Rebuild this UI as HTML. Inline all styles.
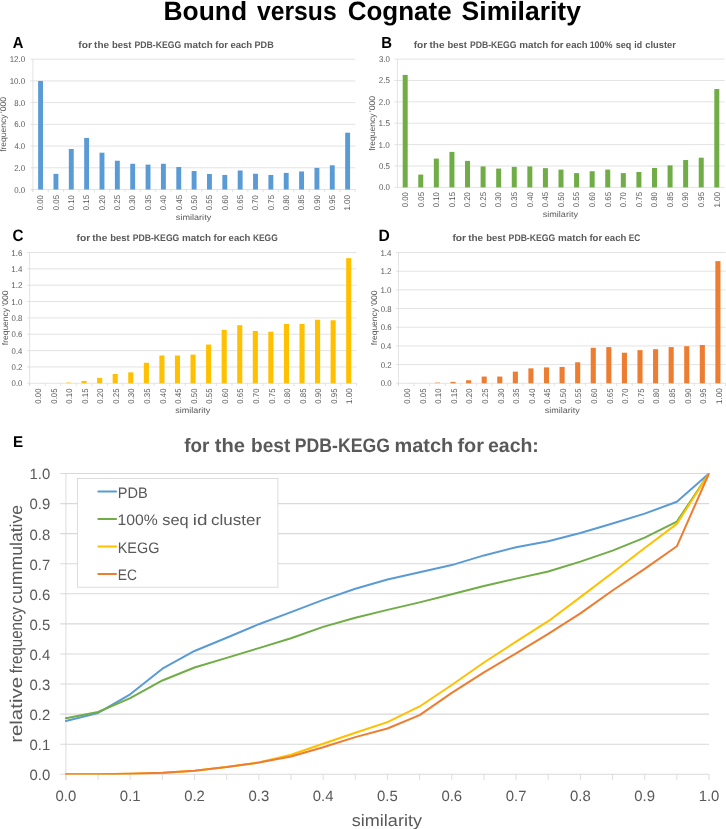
<!DOCTYPE html>
<html><head><meta charset="utf-8"><title>Bound versus Cognate Similarity</title>
<style>html,body{margin:0;padding:0;background:#fff;}body{width:726px;height:829px;overflow:hidden;}svg{display:block;}text{font-family:"Liberation Sans", sans-serif;text-rendering:geometricPrecision;}</style>
</head><body>
<svg width="726" height="829" viewBox="0 0 726 829" style="will-change:transform">
<rect x="0" y="0" width="726" height="829" fill="#ffffff"/>
<text x="163.53" y="20.30" font-size="26.4" fill="#000" font-weight="bold" textLength="83.61" lengthAdjust="spacingAndGlyphs">Bound</text>
<text x="257.00" y="20.30" font-size="26.4" fill="#000" font-weight="bold" textLength="79.71" lengthAdjust="spacingAndGlyphs">versus</text>
<text x="347.73" y="20.30" font-size="26.4" fill="#000" font-weight="bold" textLength="103.95" lengthAdjust="spacingAndGlyphs">Cognate</text>
<text x="461.64" y="20.30" font-size="26.4" fill="#000" font-weight="bold" textLength="119.31" lengthAdjust="spacingAndGlyphs">Similarity</text>
<line x1="30.40" y1="189.50" x2="355.30" y2="189.50" stroke="#d9d9d9" stroke-width="0.75"/>
<text x="14.29" y="192.50" font-size="8.3" fill="#595959" textLength="10.91" lengthAdjust="spacingAndGlyphs">0.0</text>
<line x1="30.40" y1="167.78" x2="355.30" y2="167.78" stroke="#d9d9d9" stroke-width="0.75"/>
<text x="14.20" y="170.78" font-size="8.3" fill="#595959" textLength="11.01" lengthAdjust="spacingAndGlyphs">2.0</text>
<line x1="30.40" y1="146.07" x2="355.30" y2="146.07" stroke="#d9d9d9" stroke-width="0.75"/>
<text x="14.42" y="149.07" font-size="8.3" fill="#595959" textLength="10.78" lengthAdjust="spacingAndGlyphs">4.0</text>
<line x1="30.40" y1="124.35" x2="355.30" y2="124.35" stroke="#d9d9d9" stroke-width="0.75"/>
<text x="14.20" y="127.35" font-size="8.3" fill="#595959" textLength="11.01" lengthAdjust="spacingAndGlyphs">6.0</text>
<line x1="30.40" y1="102.63" x2="355.30" y2="102.63" stroke="#d9d9d9" stroke-width="0.75"/>
<text x="14.26" y="105.63" font-size="8.3" fill="#595959" textLength="10.95" lengthAdjust="spacingAndGlyphs">8.0</text>
<line x1="30.40" y1="80.92" x2="355.30" y2="80.92" stroke="#d9d9d9" stroke-width="0.75"/>
<text x="9.69" y="83.92" font-size="8.3" fill="#595959" textLength="15.52" lengthAdjust="spacingAndGlyphs">10.0</text>
<line x1="30.40" y1="59.20" x2="355.30" y2="59.20" stroke="#d9d9d9" stroke-width="0.75"/>
<text x="9.69" y="62.20" font-size="8.3" fill="#595959" textLength="15.52" lengthAdjust="spacingAndGlyphs">12.0</text>
<line x1="32.90" y1="59.20" x2="32.90" y2="192.20" stroke="#d9d9d9" stroke-width="0.75"/>
<line x1="32.90" y1="189.50" x2="32.90" y2="192.20" stroke="#d9d9d9" stroke-width="0.75"/>
<line x1="48.25" y1="189.50" x2="48.25" y2="192.20" stroke="#d9d9d9" stroke-width="0.75"/>
<line x1="63.60" y1="189.50" x2="63.60" y2="192.20" stroke="#d9d9d9" stroke-width="0.75"/>
<line x1="78.96" y1="189.50" x2="78.96" y2="192.20" stroke="#d9d9d9" stroke-width="0.75"/>
<line x1="94.31" y1="189.50" x2="94.31" y2="192.20" stroke="#d9d9d9" stroke-width="0.75"/>
<line x1="109.66" y1="189.50" x2="109.66" y2="192.20" stroke="#d9d9d9" stroke-width="0.75"/>
<line x1="125.01" y1="189.50" x2="125.01" y2="192.20" stroke="#d9d9d9" stroke-width="0.75"/>
<line x1="140.37" y1="189.50" x2="140.37" y2="192.20" stroke="#d9d9d9" stroke-width="0.75"/>
<line x1="155.72" y1="189.50" x2="155.72" y2="192.20" stroke="#d9d9d9" stroke-width="0.75"/>
<line x1="171.07" y1="189.50" x2="171.07" y2="192.20" stroke="#d9d9d9" stroke-width="0.75"/>
<line x1="186.42" y1="189.50" x2="186.42" y2="192.20" stroke="#d9d9d9" stroke-width="0.75"/>
<line x1="201.78" y1="189.50" x2="201.78" y2="192.20" stroke="#d9d9d9" stroke-width="0.75"/>
<line x1="217.13" y1="189.50" x2="217.13" y2="192.20" stroke="#d9d9d9" stroke-width="0.75"/>
<line x1="232.48" y1="189.50" x2="232.48" y2="192.20" stroke="#d9d9d9" stroke-width="0.75"/>
<line x1="247.83" y1="189.50" x2="247.83" y2="192.20" stroke="#d9d9d9" stroke-width="0.75"/>
<line x1="263.19" y1="189.50" x2="263.19" y2="192.20" stroke="#d9d9d9" stroke-width="0.75"/>
<line x1="278.54" y1="189.50" x2="278.54" y2="192.20" stroke="#d9d9d9" stroke-width="0.75"/>
<line x1="293.89" y1="189.50" x2="293.89" y2="192.20" stroke="#d9d9d9" stroke-width="0.75"/>
<line x1="309.24" y1="189.50" x2="309.24" y2="192.20" stroke="#d9d9d9" stroke-width="0.75"/>
<line x1="324.60" y1="189.50" x2="324.60" y2="192.20" stroke="#d9d9d9" stroke-width="0.75"/>
<line x1="339.95" y1="189.50" x2="339.95" y2="192.20" stroke="#d9d9d9" stroke-width="0.75"/>
<line x1="355.30" y1="189.50" x2="355.30" y2="192.20" stroke="#d9d9d9" stroke-width="0.75"/>
<rect x="38.13" y="80.92" width="4.90" height="108.58" fill="#5b9bd5"/>
<rect x="53.48" y="173.86" width="4.90" height="15.64" fill="#5b9bd5"/>
<rect x="68.83" y="149.00" width="4.90" height="40.50" fill="#5b9bd5"/>
<rect x="84.18" y="137.92" width="4.90" height="51.58" fill="#5b9bd5"/>
<rect x="99.54" y="152.69" width="4.90" height="36.81" fill="#5b9bd5"/>
<rect x="114.89" y="160.73" width="4.90" height="28.77" fill="#5b9bd5"/>
<rect x="130.24" y="163.77" width="4.90" height="25.73" fill="#5b9bd5"/>
<rect x="145.59" y="164.63" width="4.90" height="24.87" fill="#5b9bd5"/>
<rect x="160.95" y="163.77" width="4.90" height="25.73" fill="#5b9bd5"/>
<rect x="176.30" y="167.02" width="4.90" height="22.48" fill="#5b9bd5"/>
<rect x="191.65" y="171.04" width="4.90" height="18.46" fill="#5b9bd5"/>
<rect x="207.00" y="173.97" width="4.90" height="15.53" fill="#5b9bd5"/>
<rect x="222.35" y="174.95" width="4.90" height="14.55" fill="#5b9bd5"/>
<rect x="237.71" y="170.50" width="4.90" height="19.00" fill="#5b9bd5"/>
<rect x="253.06" y="173.76" width="4.90" height="15.74" fill="#5b9bd5"/>
<rect x="268.41" y="174.95" width="4.90" height="14.55" fill="#5b9bd5"/>
<rect x="283.76" y="172.89" width="4.90" height="16.61" fill="#5b9bd5"/>
<rect x="299.12" y="171.48" width="4.90" height="18.02" fill="#5b9bd5"/>
<rect x="314.47" y="167.89" width="4.90" height="21.61" fill="#5b9bd5"/>
<rect x="329.82" y="165.29" width="4.90" height="24.21" fill="#5b9bd5"/>
<rect x="345.17" y="132.71" width="4.90" height="56.79" fill="#5b9bd5"/>
<text x="43.38" y="210.31" font-size="8.3" fill="#595959" textLength="15.31" lengthAdjust="spacingAndGlyphs" transform="rotate(-90 43.38 210.31)">0.00</text>
<text x="58.73" y="210.31" font-size="8.3" fill="#595959" textLength="15.34" lengthAdjust="spacingAndGlyphs" transform="rotate(-90 58.73 210.31)">0.05</text>
<text x="74.08" y="210.31" font-size="8.3" fill="#595959" textLength="15.31" lengthAdjust="spacingAndGlyphs" transform="rotate(-90 74.08 210.31)">0.10</text>
<text x="89.43" y="210.31" font-size="8.3" fill="#595959" textLength="15.34" lengthAdjust="spacingAndGlyphs" transform="rotate(-90 89.43 210.31)">0.15</text>
<text x="104.79" y="210.31" font-size="8.3" fill="#595959" textLength="15.31" lengthAdjust="spacingAndGlyphs" transform="rotate(-90 104.79 210.31)">0.20</text>
<text x="120.14" y="210.31" font-size="8.3" fill="#595959" textLength="15.34" lengthAdjust="spacingAndGlyphs" transform="rotate(-90 120.14 210.31)">0.25</text>
<text x="135.49" y="210.31" font-size="8.3" fill="#595959" textLength="15.31" lengthAdjust="spacingAndGlyphs" transform="rotate(-90 135.49 210.31)">0.30</text>
<text x="150.84" y="210.31" font-size="8.3" fill="#595959" textLength="15.34" lengthAdjust="spacingAndGlyphs" transform="rotate(-90 150.84 210.31)">0.35</text>
<text x="166.20" y="210.31" font-size="8.3" fill="#595959" textLength="15.31" lengthAdjust="spacingAndGlyphs" transform="rotate(-90 166.20 210.31)">0.40</text>
<text x="181.55" y="210.31" font-size="8.3" fill="#595959" textLength="15.34" lengthAdjust="spacingAndGlyphs" transform="rotate(-90 181.55 210.31)">0.45</text>
<text x="196.90" y="210.31" font-size="8.3" fill="#595959" textLength="15.31" lengthAdjust="spacingAndGlyphs" transform="rotate(-90 196.90 210.31)">0.50</text>
<text x="212.25" y="210.31" font-size="8.3" fill="#595959" textLength="15.34" lengthAdjust="spacingAndGlyphs" transform="rotate(-90 212.25 210.31)">0.55</text>
<text x="227.60" y="210.31" font-size="8.3" fill="#595959" textLength="15.31" lengthAdjust="spacingAndGlyphs" transform="rotate(-90 227.60 210.31)">0.60</text>
<text x="242.96" y="210.31" font-size="8.3" fill="#595959" textLength="15.34" lengthAdjust="spacingAndGlyphs" transform="rotate(-90 242.96 210.31)">0.65</text>
<text x="258.31" y="210.31" font-size="8.3" fill="#595959" textLength="15.31" lengthAdjust="spacingAndGlyphs" transform="rotate(-90 258.31 210.31)">0.70</text>
<text x="273.66" y="210.31" font-size="8.3" fill="#595959" textLength="15.34" lengthAdjust="spacingAndGlyphs" transform="rotate(-90 273.66 210.31)">0.75</text>
<text x="289.01" y="210.31" font-size="8.3" fill="#595959" textLength="15.31" lengthAdjust="spacingAndGlyphs" transform="rotate(-90 289.01 210.31)">0.80</text>
<text x="304.37" y="210.31" font-size="8.3" fill="#595959" textLength="15.34" lengthAdjust="spacingAndGlyphs" transform="rotate(-90 304.37 210.31)">0.85</text>
<text x="319.72" y="210.31" font-size="8.3" fill="#595959" textLength="15.31" lengthAdjust="spacingAndGlyphs" transform="rotate(-90 319.72 210.31)">0.90</text>
<text x="335.07" y="210.31" font-size="8.3" fill="#595959" textLength="15.34" lengthAdjust="spacingAndGlyphs" transform="rotate(-90 335.07 210.31)">0.95</text>
<text x="350.42" y="210.61" font-size="8.3" fill="#595959" textLength="15.63" lengthAdjust="spacingAndGlyphs" transform="rotate(-90 350.42 210.61)">1.00</text>
<text x="175.85" y="219.80" font-size="8.2" fill="#595959" textLength="35.37" lengthAdjust="spacingAndGlyphs">similarity</text>
<text x="6.50" y="151.82" font-size="8.3" fill="#595959" textLength="37.24" lengthAdjust="spacingAndGlyphs" transform="rotate(-90 6.50 151.82)">frequency</text>
<text x="6.50" y="112.94" font-size="8.3" fill="#595959" textLength="15.97" lengthAdjust="spacingAndGlyphs" transform="rotate(-90 6.50 112.94)">'000</text>
<text x="78.33" y="47.60" font-size="9.5" fill="#595959" font-weight="bold" textLength="13.63" lengthAdjust="spacingAndGlyphs">for</text>
<text x="94.08" y="47.60" font-size="9.5" fill="#595959" font-weight="bold" textLength="14.96" lengthAdjust="spacingAndGlyphs">the</text>
<text x="112.08" y="47.60" font-size="9.5" fill="#595959" font-weight="bold" textLength="19.44" lengthAdjust="spacingAndGlyphs">best</text>
<text x="134.52" y="47.60" font-size="9.5" fill="#595959" font-weight="bold" textLength="46.62" lengthAdjust="spacingAndGlyphs">PDB-KEGG</text>
<text x="183.85" y="47.60" font-size="9.5" fill="#595959" font-weight="bold" textLength="28.96" lengthAdjust="spacingAndGlyphs">match</text>
<text x="215.34" y="47.60" font-size="9.5" fill="#595959" font-weight="bold" textLength="12.71" lengthAdjust="spacingAndGlyphs">for</text>
<text x="230.43" y="47.60" font-size="9.5" fill="#595959" font-weight="bold" textLength="21.77" lengthAdjust="spacingAndGlyphs">each</text>
<text x="254.59" y="47.60" font-size="9.5" fill="#595959" font-weight="bold" textLength="19.12" lengthAdjust="spacingAndGlyphs">PDB</text>
<text transform="translate(12.733 48.300) scale(0.7378 0.7994)" font-size="20.0" font-weight="bold" fill="#000">A</text>
<line x1="394.40" y1="187.40" x2="724.60" y2="187.40" stroke="#d9d9d9" stroke-width="0.75"/>
<text x="378.89" y="190.40" font-size="8.3" fill="#595959" textLength="11.02" lengthAdjust="spacingAndGlyphs">0.0</text>
<line x1="394.40" y1="166.02" x2="724.60" y2="166.02" stroke="#d9d9d9" stroke-width="0.75"/>
<text x="378.89" y="169.02" font-size="8.3" fill="#595959" textLength="11.04" lengthAdjust="spacingAndGlyphs">0.5</text>
<line x1="394.40" y1="144.63" x2="724.60" y2="144.63" stroke="#d9d9d9" stroke-width="0.75"/>
<text x="378.58" y="147.63" font-size="8.3" fill="#595959" textLength="11.34" lengthAdjust="spacingAndGlyphs">1.0</text>
<line x1="394.40" y1="123.25" x2="724.60" y2="123.25" stroke="#d9d9d9" stroke-width="0.75"/>
<text x="378.58" y="126.25" font-size="8.3" fill="#595959" textLength="11.37" lengthAdjust="spacingAndGlyphs">1.5</text>
<line x1="394.40" y1="101.87" x2="724.60" y2="101.87" stroke="#d9d9d9" stroke-width="0.75"/>
<text x="378.80" y="104.87" font-size="8.3" fill="#595959" textLength="11.11" lengthAdjust="spacingAndGlyphs">2.0</text>
<line x1="394.40" y1="80.48" x2="724.60" y2="80.48" stroke="#d9d9d9" stroke-width="0.75"/>
<text x="378.80" y="83.48" font-size="8.3" fill="#595959" textLength="11.14" lengthAdjust="spacingAndGlyphs">2.5</text>
<line x1="394.40" y1="59.10" x2="724.60" y2="59.10" stroke="#d9d9d9" stroke-width="0.75"/>
<text x="378.90" y="62.10" font-size="8.3" fill="#595959" textLength="11.01" lengthAdjust="spacingAndGlyphs">3.0</text>
<line x1="397.40" y1="59.10" x2="397.40" y2="187.40" stroke="#d9d9d9" stroke-width="0.75"/>
<rect x="402.69" y="74.92" width="5.00" height="112.48" fill="#70ad47"/>
<rect x="418.27" y="174.57" width="5.00" height="12.83" fill="#70ad47"/>
<rect x="433.85" y="158.58" width="5.00" height="28.82" fill="#70ad47"/>
<rect x="449.43" y="151.90" width="5.00" height="35.50" fill="#70ad47"/>
<rect x="465.01" y="160.88" width="5.00" height="26.52" fill="#70ad47"/>
<rect x="480.60" y="166.44" width="5.00" height="20.96" fill="#70ad47"/>
<rect x="496.18" y="168.58" width="5.00" height="18.82" fill="#70ad47"/>
<rect x="511.76" y="166.87" width="5.00" height="20.53" fill="#70ad47"/>
<rect x="527.34" y="166.44" width="5.00" height="20.96" fill="#70ad47"/>
<rect x="542.92" y="168.16" width="5.00" height="19.25" fill="#70ad47"/>
<rect x="558.50" y="169.61" width="5.00" height="17.79" fill="#70ad47"/>
<rect x="574.08" y="173.12" width="5.00" height="14.28" fill="#70ad47"/>
<rect x="589.66" y="171.23" width="5.00" height="16.17" fill="#70ad47"/>
<rect x="605.24" y="169.61" width="5.00" height="17.79" fill="#70ad47"/>
<rect x="620.82" y="173.12" width="5.00" height="14.28" fill="#70ad47"/>
<rect x="636.40" y="171.96" width="5.00" height="15.44" fill="#70ad47"/>
<rect x="651.99" y="167.94" width="5.00" height="19.46" fill="#70ad47"/>
<rect x="667.57" y="165.38" width="5.00" height="22.02" fill="#70ad47"/>
<rect x="683.15" y="160.03" width="5.00" height="27.37" fill="#70ad47"/>
<rect x="698.73" y="157.68" width="5.00" height="29.72" fill="#70ad47"/>
<rect x="714.31" y="89.04" width="5.00" height="98.36" fill="#70ad47"/>
<text x="407.99" y="207.31" font-size="8.3" fill="#595959" textLength="15.31" lengthAdjust="spacingAndGlyphs" transform="rotate(-90 407.99 207.31)">0.00</text>
<text x="423.57" y="207.31" font-size="8.3" fill="#595959" textLength="15.34" lengthAdjust="spacingAndGlyphs" transform="rotate(-90 423.57 207.31)">0.05</text>
<text x="439.15" y="207.31" font-size="8.3" fill="#595959" textLength="15.31" lengthAdjust="spacingAndGlyphs" transform="rotate(-90 439.15 207.31)">0.10</text>
<text x="454.73" y="207.31" font-size="8.3" fill="#595959" textLength="15.34" lengthAdjust="spacingAndGlyphs" transform="rotate(-90 454.73 207.31)">0.15</text>
<text x="470.31" y="207.31" font-size="8.3" fill="#595959" textLength="15.31" lengthAdjust="spacingAndGlyphs" transform="rotate(-90 470.31 207.31)">0.20</text>
<text x="485.90" y="207.31" font-size="8.3" fill="#595959" textLength="15.34" lengthAdjust="spacingAndGlyphs" transform="rotate(-90 485.90 207.31)">0.25</text>
<text x="501.48" y="207.31" font-size="8.3" fill="#595959" textLength="15.31" lengthAdjust="spacingAndGlyphs" transform="rotate(-90 501.48 207.31)">0.30</text>
<text x="517.06" y="207.31" font-size="8.3" fill="#595959" textLength="15.34" lengthAdjust="spacingAndGlyphs" transform="rotate(-90 517.06 207.31)">0.35</text>
<text x="532.64" y="207.31" font-size="8.3" fill="#595959" textLength="15.31" lengthAdjust="spacingAndGlyphs" transform="rotate(-90 532.64 207.31)">0.40</text>
<text x="548.22" y="207.31" font-size="8.3" fill="#595959" textLength="15.34" lengthAdjust="spacingAndGlyphs" transform="rotate(-90 548.22 207.31)">0.45</text>
<text x="563.80" y="207.31" font-size="8.3" fill="#595959" textLength="15.31" lengthAdjust="spacingAndGlyphs" transform="rotate(-90 563.80 207.31)">0.50</text>
<text x="579.38" y="207.31" font-size="8.3" fill="#595959" textLength="15.34" lengthAdjust="spacingAndGlyphs" transform="rotate(-90 579.38 207.31)">0.55</text>
<text x="594.96" y="207.31" font-size="8.3" fill="#595959" textLength="15.31" lengthAdjust="spacingAndGlyphs" transform="rotate(-90 594.96 207.31)">0.60</text>
<text x="610.54" y="207.31" font-size="8.3" fill="#595959" textLength="15.34" lengthAdjust="spacingAndGlyphs" transform="rotate(-90 610.54 207.31)">0.65</text>
<text x="626.12" y="207.31" font-size="8.3" fill="#595959" textLength="15.31" lengthAdjust="spacingAndGlyphs" transform="rotate(-90 626.12 207.31)">0.70</text>
<text x="641.70" y="207.31" font-size="8.3" fill="#595959" textLength="15.34" lengthAdjust="spacingAndGlyphs" transform="rotate(-90 641.70 207.31)">0.75</text>
<text x="657.29" y="207.31" font-size="8.3" fill="#595959" textLength="15.31" lengthAdjust="spacingAndGlyphs" transform="rotate(-90 657.29 207.31)">0.80</text>
<text x="672.87" y="207.31" font-size="8.3" fill="#595959" textLength="15.34" lengthAdjust="spacingAndGlyphs" transform="rotate(-90 672.87 207.31)">0.85</text>
<text x="688.45" y="207.31" font-size="8.3" fill="#595959" textLength="15.31" lengthAdjust="spacingAndGlyphs" transform="rotate(-90 688.45 207.31)">0.90</text>
<text x="704.03" y="207.31" font-size="8.3" fill="#595959" textLength="15.34" lengthAdjust="spacingAndGlyphs" transform="rotate(-90 704.03 207.31)">0.95</text>
<text x="719.61" y="207.61" font-size="8.3" fill="#595959" textLength="15.63" lengthAdjust="spacingAndGlyphs" transform="rotate(-90 719.61 207.61)">1.00</text>
<text x="542.65" y="217.40" font-size="8.2" fill="#595959" textLength="35.37" lengthAdjust="spacingAndGlyphs">similarity</text>
<text x="375.50" y="150.82" font-size="8.3" fill="#595959" textLength="37.24" lengthAdjust="spacingAndGlyphs" transform="rotate(-90 375.50 150.82)">frequency</text>
<text x="375.50" y="111.94" font-size="8.3" fill="#595959" textLength="15.97" lengthAdjust="spacingAndGlyphs" transform="rotate(-90 375.50 111.94)">'000</text>
<text x="413.73" y="47.60" font-size="9.5" fill="#595959" font-weight="bold" textLength="13.63" lengthAdjust="spacingAndGlyphs">for</text>
<text x="429.48" y="47.60" font-size="9.5" fill="#595959" font-weight="bold" textLength="14.96" lengthAdjust="spacingAndGlyphs">the</text>
<text x="447.48" y="47.60" font-size="9.5" fill="#595959" font-weight="bold" textLength="19.44" lengthAdjust="spacingAndGlyphs">best</text>
<text x="469.92" y="47.60" font-size="9.5" fill="#595959" font-weight="bold" textLength="46.62" lengthAdjust="spacingAndGlyphs">PDB-KEGG</text>
<text x="519.25" y="47.60" font-size="9.5" fill="#595959" font-weight="bold" textLength="28.96" lengthAdjust="spacingAndGlyphs">match</text>
<text x="550.74" y="47.60" font-size="9.5" fill="#595959" font-weight="bold" textLength="12.71" lengthAdjust="spacingAndGlyphs">for</text>
<text x="565.83" y="47.60" font-size="9.5" fill="#595959" font-weight="bold" textLength="21.77" lengthAdjust="spacingAndGlyphs">each</text>
<text x="589.63" y="47.60" font-size="9.5" fill="#595959" font-weight="bold" textLength="23.00" lengthAdjust="spacingAndGlyphs">100%</text>
<text x="615.68" y="47.60" font-size="9.5" fill="#595959" font-weight="bold" textLength="15.63" lengthAdjust="spacingAndGlyphs">seq</text>
<text x="634.29" y="47.60" font-size="9.5" fill="#595959" font-weight="bold" textLength="7.79" lengthAdjust="spacingAndGlyphs">id</text>
<text x="645.34" y="47.60" font-size="9.5" fill="#595959" font-weight="bold" textLength="30.61" lengthAdjust="spacingAndGlyphs">cluster</text>
<text transform="translate(381.202 48.300) scale(0.7460 0.7994)" font-size="20.0" font-weight="bold" fill="#000">B</text>
<line x1="27.10" y1="383.30" x2="356.50" y2="383.30" stroke="#d9d9d9" stroke-width="0.75"/>
<text x="11.60" y="386.30" font-size="8.3" fill="#595959" textLength="10.81" lengthAdjust="spacingAndGlyphs">0.0</text>
<line x1="27.10" y1="366.95" x2="356.50" y2="366.95" stroke="#d9d9d9" stroke-width="0.75"/>
<text x="11.59" y="369.95" font-size="8.3" fill="#595959" textLength="10.90" lengthAdjust="spacingAndGlyphs">0.2</text>
<line x1="27.10" y1="350.60" x2="356.50" y2="350.60" stroke="#d9d9d9" stroke-width="0.75"/>
<text x="11.60" y="353.60" font-size="8.3" fill="#595959" textLength="10.73" lengthAdjust="spacingAndGlyphs">0.4</text>
<line x1="27.10" y1="334.25" x2="356.50" y2="334.25" stroke="#d9d9d9" stroke-width="0.75"/>
<text x="11.60" y="337.25" font-size="8.3" fill="#595959" textLength="10.85" lengthAdjust="spacingAndGlyphs">0.6</text>
<line x1="27.10" y1="317.90" x2="356.50" y2="317.90" stroke="#d9d9d9" stroke-width="0.75"/>
<text x="11.60" y="320.90" font-size="8.3" fill="#595959" textLength="10.84" lengthAdjust="spacingAndGlyphs">0.8</text>
<line x1="27.10" y1="301.55" x2="356.50" y2="301.55" stroke="#d9d9d9" stroke-width="0.75"/>
<text x="11.29" y="304.55" font-size="8.3" fill="#595959" textLength="11.12" lengthAdjust="spacingAndGlyphs">1.0</text>
<line x1="27.10" y1="285.20" x2="356.50" y2="285.20" stroke="#d9d9d9" stroke-width="0.75"/>
<text x="11.29" y="288.20" font-size="8.3" fill="#595959" textLength="11.22" lengthAdjust="spacingAndGlyphs">1.2</text>
<line x1="27.10" y1="268.85" x2="356.50" y2="268.85" stroke="#d9d9d9" stroke-width="0.75"/>
<text x="11.30" y="271.85" font-size="8.3" fill="#595959" textLength="11.04" lengthAdjust="spacingAndGlyphs">1.4</text>
<line x1="27.10" y1="252.50" x2="356.50" y2="252.50" stroke="#d9d9d9" stroke-width="0.75"/>
<text x="11.29" y="255.50" font-size="8.3" fill="#595959" textLength="11.16" lengthAdjust="spacingAndGlyphs">1.6</text>
<line x1="29.60" y1="252.50" x2="29.60" y2="386.00" stroke="#d9d9d9" stroke-width="0.75"/>
<line x1="29.60" y1="383.30" x2="29.60" y2="386.00" stroke="#d9d9d9" stroke-width="0.75"/>
<line x1="45.17" y1="383.30" x2="45.17" y2="386.00" stroke="#d9d9d9" stroke-width="0.75"/>
<line x1="60.73" y1="383.30" x2="60.73" y2="386.00" stroke="#d9d9d9" stroke-width="0.75"/>
<line x1="76.30" y1="383.30" x2="76.30" y2="386.00" stroke="#d9d9d9" stroke-width="0.75"/>
<line x1="91.87" y1="383.30" x2="91.87" y2="386.00" stroke="#d9d9d9" stroke-width="0.75"/>
<line x1="107.43" y1="383.30" x2="107.43" y2="386.00" stroke="#d9d9d9" stroke-width="0.75"/>
<line x1="123.00" y1="383.30" x2="123.00" y2="386.00" stroke="#d9d9d9" stroke-width="0.75"/>
<line x1="138.57" y1="383.30" x2="138.57" y2="386.00" stroke="#d9d9d9" stroke-width="0.75"/>
<line x1="154.13" y1="383.30" x2="154.13" y2="386.00" stroke="#d9d9d9" stroke-width="0.75"/>
<line x1="169.70" y1="383.30" x2="169.70" y2="386.00" stroke="#d9d9d9" stroke-width="0.75"/>
<line x1="185.27" y1="383.30" x2="185.27" y2="386.00" stroke="#d9d9d9" stroke-width="0.75"/>
<line x1="200.83" y1="383.30" x2="200.83" y2="386.00" stroke="#d9d9d9" stroke-width="0.75"/>
<line x1="216.40" y1="383.30" x2="216.40" y2="386.00" stroke="#d9d9d9" stroke-width="0.75"/>
<line x1="231.97" y1="383.30" x2="231.97" y2="386.00" stroke="#d9d9d9" stroke-width="0.75"/>
<line x1="247.53" y1="383.30" x2="247.53" y2="386.00" stroke="#d9d9d9" stroke-width="0.75"/>
<line x1="263.10" y1="383.30" x2="263.10" y2="386.00" stroke="#d9d9d9" stroke-width="0.75"/>
<line x1="278.67" y1="383.30" x2="278.67" y2="386.00" stroke="#d9d9d9" stroke-width="0.75"/>
<line x1="294.23" y1="383.30" x2="294.23" y2="386.00" stroke="#d9d9d9" stroke-width="0.75"/>
<line x1="309.80" y1="383.30" x2="309.80" y2="386.00" stroke="#d9d9d9" stroke-width="0.75"/>
<line x1="325.37" y1="383.30" x2="325.37" y2="386.00" stroke="#d9d9d9" stroke-width="0.75"/>
<line x1="340.93" y1="383.30" x2="340.93" y2="386.00" stroke="#d9d9d9" stroke-width="0.75"/>
<line x1="356.50" y1="383.30" x2="356.50" y2="386.00" stroke="#d9d9d9" stroke-width="0.75"/>
<rect x="65.97" y="382.16" width="5.10" height="1.14" fill="#ffc000" opacity="0.45"/>
<rect x="81.53" y="380.93" width="5.10" height="2.37" fill="#ffc000"/>
<rect x="97.10" y="377.90" width="5.10" height="5.40" fill="#ffc000"/>
<rect x="112.67" y="373.98" width="5.10" height="9.32" fill="#ffc000"/>
<rect x="128.23" y="372.35" width="5.10" height="10.95" fill="#ffc000"/>
<rect x="143.80" y="362.78" width="5.10" height="20.52" fill="#ffc000"/>
<rect x="159.37" y="355.50" width="5.10" height="27.80" fill="#ffc000"/>
<rect x="174.93" y="355.50" width="5.10" height="27.80" fill="#ffc000"/>
<rect x="190.50" y="354.61" width="5.10" height="28.69" fill="#ffc000"/>
<rect x="206.07" y="344.55" width="5.10" height="38.75" fill="#ffc000"/>
<rect x="221.63" y="329.84" width="5.10" height="53.46" fill="#ffc000"/>
<rect x="237.20" y="325.18" width="5.10" height="58.12" fill="#ffc000"/>
<rect x="252.77" y="330.98" width="5.10" height="52.32" fill="#ffc000"/>
<rect x="268.33" y="331.72" width="5.10" height="51.58" fill="#ffc000"/>
<rect x="283.90" y="323.95" width="5.10" height="59.35" fill="#ffc000"/>
<rect x="299.47" y="323.95" width="5.10" height="59.35" fill="#ffc000"/>
<rect x="315.03" y="319.78" width="5.10" height="63.52" fill="#ffc000"/>
<rect x="330.60" y="320.27" width="5.10" height="63.03" fill="#ffc000"/>
<rect x="346.17" y="258.14" width="5.10" height="125.16" fill="#ffc000"/>
<text x="41.08" y="403.71" font-size="8.3" fill="#595959" textLength="15.31" lengthAdjust="spacingAndGlyphs" transform="rotate(-90 41.08 403.71)">0.00</text>
<text x="56.65" y="403.71" font-size="8.3" fill="#595959" textLength="15.34" lengthAdjust="spacingAndGlyphs" transform="rotate(-90 56.65 403.71)">0.05</text>
<text x="72.22" y="403.71" font-size="8.3" fill="#595959" textLength="15.31" lengthAdjust="spacingAndGlyphs" transform="rotate(-90 72.22 403.71)">0.10</text>
<text x="87.78" y="403.71" font-size="8.3" fill="#595959" textLength="15.34" lengthAdjust="spacingAndGlyphs" transform="rotate(-90 87.78 403.71)">0.15</text>
<text x="103.35" y="403.71" font-size="8.3" fill="#595959" textLength="15.31" lengthAdjust="spacingAndGlyphs" transform="rotate(-90 103.35 403.71)">0.20</text>
<text x="118.92" y="403.71" font-size="8.3" fill="#595959" textLength="15.34" lengthAdjust="spacingAndGlyphs" transform="rotate(-90 118.92 403.71)">0.25</text>
<text x="134.48" y="403.71" font-size="8.3" fill="#595959" textLength="15.31" lengthAdjust="spacingAndGlyphs" transform="rotate(-90 134.48 403.71)">0.30</text>
<text x="150.05" y="403.71" font-size="8.3" fill="#595959" textLength="15.34" lengthAdjust="spacingAndGlyphs" transform="rotate(-90 150.05 403.71)">0.35</text>
<text x="165.62" y="403.71" font-size="8.3" fill="#595959" textLength="15.31" lengthAdjust="spacingAndGlyphs" transform="rotate(-90 165.62 403.71)">0.40</text>
<text x="181.18" y="403.71" font-size="8.3" fill="#595959" textLength="15.34" lengthAdjust="spacingAndGlyphs" transform="rotate(-90 181.18 403.71)">0.45</text>
<text x="196.75" y="403.71" font-size="8.3" fill="#595959" textLength="15.31" lengthAdjust="spacingAndGlyphs" transform="rotate(-90 196.75 403.71)">0.50</text>
<text x="212.32" y="403.71" font-size="8.3" fill="#595959" textLength="15.34" lengthAdjust="spacingAndGlyphs" transform="rotate(-90 212.32 403.71)">0.55</text>
<text x="227.88" y="403.71" font-size="8.3" fill="#595959" textLength="15.31" lengthAdjust="spacingAndGlyphs" transform="rotate(-90 227.88 403.71)">0.60</text>
<text x="243.45" y="403.71" font-size="8.3" fill="#595959" textLength="15.34" lengthAdjust="spacingAndGlyphs" transform="rotate(-90 243.45 403.71)">0.65</text>
<text x="259.02" y="403.71" font-size="8.3" fill="#595959" textLength="15.31" lengthAdjust="spacingAndGlyphs" transform="rotate(-90 259.02 403.71)">0.70</text>
<text x="274.58" y="403.71" font-size="8.3" fill="#595959" textLength="15.34" lengthAdjust="spacingAndGlyphs" transform="rotate(-90 274.58 403.71)">0.75</text>
<text x="290.15" y="403.71" font-size="8.3" fill="#595959" textLength="15.31" lengthAdjust="spacingAndGlyphs" transform="rotate(-90 290.15 403.71)">0.80</text>
<text x="305.72" y="403.71" font-size="8.3" fill="#595959" textLength="15.34" lengthAdjust="spacingAndGlyphs" transform="rotate(-90 305.72 403.71)">0.85</text>
<text x="321.28" y="403.71" font-size="8.3" fill="#595959" textLength="15.31" lengthAdjust="spacingAndGlyphs" transform="rotate(-90 321.28 403.71)">0.90</text>
<text x="336.85" y="403.71" font-size="8.3" fill="#595959" textLength="15.34" lengthAdjust="spacingAndGlyphs" transform="rotate(-90 336.85 403.71)">0.95</text>
<text x="352.42" y="404.01" font-size="8.3" fill="#595959" textLength="15.63" lengthAdjust="spacingAndGlyphs" transform="rotate(-90 352.42 404.01)">1.00</text>
<text x="175.25" y="413.30" font-size="8.2" fill="#595959" textLength="35.07" lengthAdjust="spacingAndGlyphs">similarity</text>
<text x="7.80" y="345.22" font-size="8.3" fill="#595959" textLength="37.24" lengthAdjust="spacingAndGlyphs" transform="rotate(-90 7.80 345.22)">frequency</text>
<text x="7.80" y="306.34" font-size="8.3" fill="#595959" textLength="15.97" lengthAdjust="spacingAndGlyphs" transform="rotate(-90 7.80 306.34)">'000</text>
<text x="76.53" y="241.40" font-size="9.5" fill="#595959" font-weight="bold" textLength="13.63" lengthAdjust="spacingAndGlyphs">for</text>
<text x="92.28" y="241.40" font-size="9.5" fill="#595959" font-weight="bold" textLength="14.96" lengthAdjust="spacingAndGlyphs">the</text>
<text x="110.28" y="241.40" font-size="9.5" fill="#595959" font-weight="bold" textLength="19.44" lengthAdjust="spacingAndGlyphs">best</text>
<text x="132.72" y="241.40" font-size="9.5" fill="#595959" font-weight="bold" textLength="46.62" lengthAdjust="spacingAndGlyphs">PDB-KEGG</text>
<text x="182.05" y="241.40" font-size="9.5" fill="#595959" font-weight="bold" textLength="28.96" lengthAdjust="spacingAndGlyphs">match</text>
<text x="213.54" y="241.40" font-size="9.5" fill="#595959" font-weight="bold" textLength="12.71" lengthAdjust="spacingAndGlyphs">for</text>
<text x="228.63" y="241.40" font-size="9.5" fill="#595959" font-weight="bold" textLength="21.77" lengthAdjust="spacingAndGlyphs">each</text>
<text x="252.94" y="241.40" font-size="9.5" fill="#595959" font-weight="bold" textLength="24.78" lengthAdjust="spacingAndGlyphs">KEGG</text>
<text transform="translate(12.479 240.738) scale(0.7571 0.8263)" font-size="20.0" font-weight="bold" fill="#000">C</text>
<line x1="396.00" y1="383.30" x2="725.70" y2="383.30" stroke="#d9d9d9" stroke-width="0.75"/>
<text x="380.70" y="386.30" font-size="8.3" fill="#595959" textLength="10.81" lengthAdjust="spacingAndGlyphs">0.0</text>
<line x1="396.00" y1="364.61" x2="725.70" y2="364.61" stroke="#d9d9d9" stroke-width="0.75"/>
<text x="380.69" y="367.61" font-size="8.3" fill="#595959" textLength="10.90" lengthAdjust="spacingAndGlyphs">0.2</text>
<line x1="396.00" y1="345.93" x2="725.70" y2="345.93" stroke="#d9d9d9" stroke-width="0.75"/>
<text x="380.70" y="348.93" font-size="8.3" fill="#595959" textLength="10.73" lengthAdjust="spacingAndGlyphs">0.4</text>
<line x1="396.00" y1="327.24" x2="725.70" y2="327.24" stroke="#d9d9d9" stroke-width="0.75"/>
<text x="380.70" y="330.24" font-size="8.3" fill="#595959" textLength="10.85" lengthAdjust="spacingAndGlyphs">0.6</text>
<line x1="396.00" y1="308.56" x2="725.70" y2="308.56" stroke="#d9d9d9" stroke-width="0.75"/>
<text x="380.70" y="311.56" font-size="8.3" fill="#595959" textLength="10.84" lengthAdjust="spacingAndGlyphs">0.8</text>
<line x1="396.00" y1="289.87" x2="725.70" y2="289.87" stroke="#d9d9d9" stroke-width="0.75"/>
<text x="380.39" y="292.87" font-size="8.3" fill="#595959" textLength="11.12" lengthAdjust="spacingAndGlyphs">1.0</text>
<line x1="396.00" y1="271.19" x2="725.70" y2="271.19" stroke="#d9d9d9" stroke-width="0.75"/>
<text x="380.39" y="274.19" font-size="8.3" fill="#595959" textLength="11.22" lengthAdjust="spacingAndGlyphs">1.2</text>
<line x1="396.00" y1="252.50" x2="725.70" y2="252.50" stroke="#d9d9d9" stroke-width="0.75"/>
<text x="380.40" y="255.50" font-size="8.3" fill="#595959" textLength="11.04" lengthAdjust="spacingAndGlyphs">1.4</text>
<line x1="398.50" y1="252.50" x2="398.50" y2="386.00" stroke="#d9d9d9" stroke-width="0.75"/>
<line x1="398.50" y1="383.30" x2="398.50" y2="386.00" stroke="#d9d9d9" stroke-width="0.75"/>
<line x1="414.08" y1="383.30" x2="414.08" y2="386.00" stroke="#d9d9d9" stroke-width="0.75"/>
<line x1="429.66" y1="383.30" x2="429.66" y2="386.00" stroke="#d9d9d9" stroke-width="0.75"/>
<line x1="445.24" y1="383.30" x2="445.24" y2="386.00" stroke="#d9d9d9" stroke-width="0.75"/>
<line x1="460.82" y1="383.30" x2="460.82" y2="386.00" stroke="#d9d9d9" stroke-width="0.75"/>
<line x1="476.40" y1="383.30" x2="476.40" y2="386.00" stroke="#d9d9d9" stroke-width="0.75"/>
<line x1="491.99" y1="383.30" x2="491.99" y2="386.00" stroke="#d9d9d9" stroke-width="0.75"/>
<line x1="507.57" y1="383.30" x2="507.57" y2="386.00" stroke="#d9d9d9" stroke-width="0.75"/>
<line x1="523.15" y1="383.30" x2="523.15" y2="386.00" stroke="#d9d9d9" stroke-width="0.75"/>
<line x1="538.73" y1="383.30" x2="538.73" y2="386.00" stroke="#d9d9d9" stroke-width="0.75"/>
<line x1="554.31" y1="383.30" x2="554.31" y2="386.00" stroke="#d9d9d9" stroke-width="0.75"/>
<line x1="569.89" y1="383.30" x2="569.89" y2="386.00" stroke="#d9d9d9" stroke-width="0.75"/>
<line x1="585.47" y1="383.30" x2="585.47" y2="386.00" stroke="#d9d9d9" stroke-width="0.75"/>
<line x1="601.05" y1="383.30" x2="601.05" y2="386.00" stroke="#d9d9d9" stroke-width="0.75"/>
<line x1="616.63" y1="383.30" x2="616.63" y2="386.00" stroke="#d9d9d9" stroke-width="0.75"/>
<line x1="632.21" y1="383.30" x2="632.21" y2="386.00" stroke="#d9d9d9" stroke-width="0.75"/>
<line x1="647.80" y1="383.30" x2="647.80" y2="386.00" stroke="#d9d9d9" stroke-width="0.75"/>
<line x1="663.38" y1="383.30" x2="663.38" y2="386.00" stroke="#d9d9d9" stroke-width="0.75"/>
<line x1="678.96" y1="383.30" x2="678.96" y2="386.00" stroke="#d9d9d9" stroke-width="0.75"/>
<line x1="694.54" y1="383.30" x2="694.54" y2="386.00" stroke="#d9d9d9" stroke-width="0.75"/>
<line x1="710.12" y1="383.30" x2="710.12" y2="386.00" stroke="#d9d9d9" stroke-width="0.75"/>
<line x1="725.70" y1="383.30" x2="725.70" y2="386.00" stroke="#d9d9d9" stroke-width="0.75"/>
<rect x="434.90" y="382.13" width="5.10" height="1.17" fill="#ed7d31" opacity="0.45"/>
<rect x="450.48" y="381.90" width="5.10" height="1.40" fill="#ed7d31"/>
<rect x="466.06" y="380.26" width="5.10" height="3.04" fill="#ed7d31"/>
<rect x="481.65" y="376.53" width="5.10" height="6.77" fill="#ed7d31"/>
<rect x="497.23" y="376.53" width="5.10" height="6.77" fill="#ed7d31"/>
<rect x="512.81" y="371.62" width="5.10" height="11.68" fill="#ed7d31"/>
<rect x="528.39" y="368.35" width="5.10" height="14.95" fill="#ed7d31"/>
<rect x="543.97" y="367.42" width="5.10" height="15.88" fill="#ed7d31"/>
<rect x="559.55" y="366.95" width="5.10" height="16.35" fill="#ed7d31"/>
<rect x="575.13" y="362.28" width="5.10" height="21.02" fill="#ed7d31"/>
<rect x="590.71" y="347.80" width="5.10" height="35.50" fill="#ed7d31"/>
<rect x="606.29" y="347.10" width="5.10" height="36.20" fill="#ed7d31"/>
<rect x="621.87" y="352.70" width="5.10" height="30.60" fill="#ed7d31"/>
<rect x="637.45" y="350.13" width="5.10" height="33.17" fill="#ed7d31"/>
<rect x="653.04" y="349.20" width="5.10" height="34.10" fill="#ed7d31"/>
<rect x="668.62" y="347.10" width="5.10" height="36.20" fill="#ed7d31"/>
<rect x="684.20" y="346.16" width="5.10" height="37.14" fill="#ed7d31"/>
<rect x="699.78" y="344.99" width="5.10" height="38.31" fill="#ed7d31"/>
<rect x="715.36" y="261.14" width="5.10" height="122.16" fill="#ed7d31"/>
<text x="410.09" y="403.71" font-size="8.3" fill="#595959" textLength="15.31" lengthAdjust="spacingAndGlyphs" transform="rotate(-90 410.09 403.71)">0.00</text>
<text x="425.67" y="403.71" font-size="8.3" fill="#595959" textLength="15.34" lengthAdjust="spacingAndGlyphs" transform="rotate(-90 425.67 403.71)">0.05</text>
<text x="441.25" y="403.71" font-size="8.3" fill="#595959" textLength="15.31" lengthAdjust="spacingAndGlyphs" transform="rotate(-90 441.25 403.71)">0.10</text>
<text x="456.83" y="403.71" font-size="8.3" fill="#595959" textLength="15.34" lengthAdjust="spacingAndGlyphs" transform="rotate(-90 456.83 403.71)">0.15</text>
<text x="472.41" y="403.71" font-size="8.3" fill="#595959" textLength="15.31" lengthAdjust="spacingAndGlyphs" transform="rotate(-90 472.41 403.71)">0.20</text>
<text x="488.00" y="403.71" font-size="8.3" fill="#595959" textLength="15.34" lengthAdjust="spacingAndGlyphs" transform="rotate(-90 488.00 403.71)">0.25</text>
<text x="503.58" y="403.71" font-size="8.3" fill="#595959" textLength="15.31" lengthAdjust="spacingAndGlyphs" transform="rotate(-90 503.58 403.71)">0.30</text>
<text x="519.16" y="403.71" font-size="8.3" fill="#595959" textLength="15.34" lengthAdjust="spacingAndGlyphs" transform="rotate(-90 519.16 403.71)">0.35</text>
<text x="534.74" y="403.71" font-size="8.3" fill="#595959" textLength="15.31" lengthAdjust="spacingAndGlyphs" transform="rotate(-90 534.74 403.71)">0.40</text>
<text x="550.32" y="403.71" font-size="8.3" fill="#595959" textLength="15.34" lengthAdjust="spacingAndGlyphs" transform="rotate(-90 550.32 403.71)">0.45</text>
<text x="565.90" y="403.71" font-size="8.3" fill="#595959" textLength="15.31" lengthAdjust="spacingAndGlyphs" transform="rotate(-90 565.90 403.71)">0.50</text>
<text x="581.48" y="403.71" font-size="8.3" fill="#595959" textLength="15.34" lengthAdjust="spacingAndGlyphs" transform="rotate(-90 581.48 403.71)">0.55</text>
<text x="597.06" y="403.71" font-size="8.3" fill="#595959" textLength="15.31" lengthAdjust="spacingAndGlyphs" transform="rotate(-90 597.06 403.71)">0.60</text>
<text x="612.64" y="403.71" font-size="8.3" fill="#595959" textLength="15.34" lengthAdjust="spacingAndGlyphs" transform="rotate(-90 612.64 403.71)">0.65</text>
<text x="628.22" y="403.71" font-size="8.3" fill="#595959" textLength="15.31" lengthAdjust="spacingAndGlyphs" transform="rotate(-90 628.22 403.71)">0.70</text>
<text x="643.80" y="403.71" font-size="8.3" fill="#595959" textLength="15.34" lengthAdjust="spacingAndGlyphs" transform="rotate(-90 643.80 403.71)">0.75</text>
<text x="659.39" y="403.71" font-size="8.3" fill="#595959" textLength="15.31" lengthAdjust="spacingAndGlyphs" transform="rotate(-90 659.39 403.71)">0.80</text>
<text x="674.97" y="403.71" font-size="8.3" fill="#595959" textLength="15.34" lengthAdjust="spacingAndGlyphs" transform="rotate(-90 674.97 403.71)">0.85</text>
<text x="690.55" y="403.71" font-size="8.3" fill="#595959" textLength="15.31" lengthAdjust="spacingAndGlyphs" transform="rotate(-90 690.55 403.71)">0.90</text>
<text x="706.13" y="403.71" font-size="8.3" fill="#595959" textLength="15.34" lengthAdjust="spacingAndGlyphs" transform="rotate(-90 706.13 403.71)">0.95</text>
<text x="721.71" y="404.01" font-size="8.3" fill="#595959" textLength="15.63" lengthAdjust="spacingAndGlyphs" transform="rotate(-90 721.71 404.01)">1.00</text>
<text x="544.65" y="413.30" font-size="8.2" fill="#595959" textLength="35.07" lengthAdjust="spacingAndGlyphs">similarity</text>
<text x="377.10" y="345.22" font-size="8.3" fill="#595959" textLength="37.24" lengthAdjust="spacingAndGlyphs" transform="rotate(-90 377.10 345.22)">frequency</text>
<text x="377.10" y="306.34" font-size="8.3" fill="#595959" textLength="15.97" lengthAdjust="spacingAndGlyphs" transform="rotate(-90 377.10 306.34)">'000</text>
<text x="452.43" y="241.40" font-size="9.5" fill="#595959" font-weight="bold" textLength="13.63" lengthAdjust="spacingAndGlyphs">for</text>
<text x="468.18" y="241.40" font-size="9.5" fill="#595959" font-weight="bold" textLength="14.96" lengthAdjust="spacingAndGlyphs">the</text>
<text x="486.18" y="241.40" font-size="9.5" fill="#595959" font-weight="bold" textLength="19.44" lengthAdjust="spacingAndGlyphs">best</text>
<text x="508.62" y="241.40" font-size="9.5" fill="#595959" font-weight="bold" textLength="46.62" lengthAdjust="spacingAndGlyphs">PDB-KEGG</text>
<text x="557.95" y="241.40" font-size="9.5" fill="#595959" font-weight="bold" textLength="28.96" lengthAdjust="spacingAndGlyphs">match</text>
<text x="589.44" y="241.40" font-size="9.5" fill="#595959" font-weight="bold" textLength="12.71" lengthAdjust="spacingAndGlyphs">for</text>
<text x="604.53" y="241.40" font-size="9.5" fill="#595959" font-weight="bold" textLength="21.77" lengthAdjust="spacingAndGlyphs">each</text>
<text x="628.75" y="241.40" font-size="9.5" fill="#595959" font-weight="bold" textLength="11.48" lengthAdjust="spacingAndGlyphs">EC</text>
<text transform="translate(378.453 240.800) scale(0.7827 0.8140)" font-size="20.0" font-weight="bold" fill="#000">D</text>
<line x1="60.30" y1="774.30" x2="709.00" y2="774.30" stroke="#d9d9d9" stroke-width="1.1"/>
<text x="50.30" y="780.20" font-size="14.9" fill="#595959" text-anchor="end" textLength="20.70" lengthAdjust="spacingAndGlyphs">0.0</text>
<line x1="60.30" y1="744.22" x2="709.00" y2="744.22" stroke="#d9d9d9" stroke-width="1.1"/>
<text x="50.30" y="750.12" font-size="14.9" fill="#595959" text-anchor="end" textLength="20.70" lengthAdjust="spacingAndGlyphs">0.1</text>
<line x1="60.30" y1="714.14" x2="709.00" y2="714.14" stroke="#d9d9d9" stroke-width="1.1"/>
<text x="50.30" y="720.04" font-size="14.9" fill="#595959" text-anchor="end" textLength="20.70" lengthAdjust="spacingAndGlyphs">0.2</text>
<line x1="60.30" y1="684.06" x2="709.00" y2="684.06" stroke="#d9d9d9" stroke-width="1.1"/>
<text x="50.30" y="689.96" font-size="14.9" fill="#595959" text-anchor="end" textLength="20.70" lengthAdjust="spacingAndGlyphs">0.3</text>
<line x1="60.30" y1="653.98" x2="709.00" y2="653.98" stroke="#d9d9d9" stroke-width="1.1"/>
<text x="50.30" y="659.88" font-size="14.9" fill="#595959" text-anchor="end" textLength="20.70" lengthAdjust="spacingAndGlyphs">0.4</text>
<line x1="60.30" y1="623.90" x2="709.00" y2="623.90" stroke="#d9d9d9" stroke-width="1.1"/>
<text x="50.30" y="629.80" font-size="14.9" fill="#595959" text-anchor="end" textLength="20.70" lengthAdjust="spacingAndGlyphs">0.5</text>
<line x1="60.30" y1="593.82" x2="709.00" y2="593.82" stroke="#d9d9d9" stroke-width="1.1"/>
<text x="50.30" y="599.72" font-size="14.9" fill="#595959" text-anchor="end" textLength="20.70" lengthAdjust="spacingAndGlyphs">0.6</text>
<line x1="60.30" y1="563.74" x2="709.00" y2="563.74" stroke="#d9d9d9" stroke-width="1.1"/>
<text x="50.30" y="569.64" font-size="14.9" fill="#595959" text-anchor="end" textLength="20.70" lengthAdjust="spacingAndGlyphs">0.7</text>
<line x1="60.30" y1="533.66" x2="709.00" y2="533.66" stroke="#d9d9d9" stroke-width="1.1"/>
<text x="50.30" y="539.56" font-size="14.9" fill="#595959" text-anchor="end" textLength="20.70" lengthAdjust="spacingAndGlyphs">0.8</text>
<line x1="60.30" y1="503.58" x2="709.00" y2="503.58" stroke="#d9d9d9" stroke-width="1.1"/>
<text x="50.30" y="509.48" font-size="14.9" fill="#595959" text-anchor="end" textLength="20.70" lengthAdjust="spacingAndGlyphs">0.9</text>
<line x1="60.30" y1="473.50" x2="709.00" y2="473.50" stroke="#d9d9d9" stroke-width="1.1"/>
<text x="50.30" y="479.40" font-size="14.9" fill="#595959" text-anchor="end" textLength="20.70" lengthAdjust="spacingAndGlyphs">1.0</text>
<line x1="65.90" y1="473.50" x2="65.90" y2="779.90" stroke="#d9d9d9" stroke-width="0.9"/>
<line x1="65.90" y1="774.30" x2="65.90" y2="779.90" stroke="#d9d9d9" stroke-width="0.9"/>
<line x1="98.06" y1="774.30" x2="98.06" y2="779.90" stroke="#d9d9d9" stroke-width="0.9"/>
<line x1="130.21" y1="774.30" x2="130.21" y2="779.90" stroke="#d9d9d9" stroke-width="0.9"/>
<line x1="162.37" y1="774.30" x2="162.37" y2="779.90" stroke="#d9d9d9" stroke-width="0.9"/>
<line x1="194.52" y1="774.30" x2="194.52" y2="779.90" stroke="#d9d9d9" stroke-width="0.9"/>
<line x1="226.68" y1="774.30" x2="226.68" y2="779.90" stroke="#d9d9d9" stroke-width="0.9"/>
<line x1="258.83" y1="774.30" x2="258.83" y2="779.90" stroke="#d9d9d9" stroke-width="0.9"/>
<line x1="290.99" y1="774.30" x2="290.99" y2="779.90" stroke="#d9d9d9" stroke-width="0.9"/>
<line x1="323.14" y1="774.30" x2="323.14" y2="779.90" stroke="#d9d9d9" stroke-width="0.9"/>
<line x1="355.30" y1="774.30" x2="355.30" y2="779.90" stroke="#d9d9d9" stroke-width="0.9"/>
<line x1="387.45" y1="774.30" x2="387.45" y2="779.90" stroke="#d9d9d9" stroke-width="0.9"/>
<line x1="419.61" y1="774.30" x2="419.61" y2="779.90" stroke="#d9d9d9" stroke-width="0.9"/>
<line x1="451.76" y1="774.30" x2="451.76" y2="779.90" stroke="#d9d9d9" stroke-width="0.9"/>
<line x1="483.92" y1="774.30" x2="483.92" y2="779.90" stroke="#d9d9d9" stroke-width="0.9"/>
<line x1="516.07" y1="774.30" x2="516.07" y2="779.90" stroke="#d9d9d9" stroke-width="0.9"/>
<line x1="548.23" y1="774.30" x2="548.23" y2="779.90" stroke="#d9d9d9" stroke-width="0.9"/>
<line x1="580.38" y1="774.30" x2="580.38" y2="779.90" stroke="#d9d9d9" stroke-width="0.9"/>
<line x1="612.53" y1="774.30" x2="612.53" y2="779.90" stroke="#d9d9d9" stroke-width="0.9"/>
<line x1="644.69" y1="774.30" x2="644.69" y2="779.90" stroke="#d9d9d9" stroke-width="0.9"/>
<line x1="676.84" y1="774.30" x2="676.84" y2="779.90" stroke="#d9d9d9" stroke-width="0.9"/>
<line x1="709.00" y1="774.30" x2="709.00" y2="779.90" stroke="#d9d9d9" stroke-width="0.9"/>
<text x="65.90" y="801.00" font-size="14.9" fill="#595959" text-anchor="middle" textLength="20.70" lengthAdjust="spacingAndGlyphs">0.0</text>
<text x="130.21" y="801.00" font-size="14.9" fill="#595959" text-anchor="middle" textLength="20.70" lengthAdjust="spacingAndGlyphs">0.1</text>
<text x="194.52" y="801.00" font-size="14.9" fill="#595959" text-anchor="middle" textLength="20.70" lengthAdjust="spacingAndGlyphs">0.2</text>
<text x="258.83" y="801.00" font-size="14.9" fill="#595959" text-anchor="middle" textLength="20.70" lengthAdjust="spacingAndGlyphs">0.3</text>
<text x="323.14" y="801.00" font-size="14.9" fill="#595959" text-anchor="middle" textLength="20.70" lengthAdjust="spacingAndGlyphs">0.4</text>
<text x="387.45" y="801.00" font-size="14.9" fill="#595959" text-anchor="middle" textLength="20.70" lengthAdjust="spacingAndGlyphs">0.5</text>
<text x="451.76" y="801.00" font-size="14.9" fill="#595959" text-anchor="middle" textLength="20.70" lengthAdjust="spacingAndGlyphs">0.6</text>
<text x="516.07" y="801.00" font-size="14.9" fill="#595959" text-anchor="middle" textLength="20.70" lengthAdjust="spacingAndGlyphs">0.7</text>
<text x="580.38" y="801.00" font-size="14.9" fill="#595959" text-anchor="middle" textLength="20.70" lengthAdjust="spacingAndGlyphs">0.8</text>
<text x="644.69" y="801.00" font-size="14.9" fill="#595959" text-anchor="middle" textLength="20.70" lengthAdjust="spacingAndGlyphs">0.9</text>
<text x="709.00" y="801.00" font-size="14.9" fill="#595959" text-anchor="middle" textLength="20.70" lengthAdjust="spacingAndGlyphs">1.0</text>
<clipPath id="eclip"><rect x="64.90" y="473.30" width="644.50" height="301.30"/></clipPath>
<polyline points="65.90,721.06 98.06,712.94 130.21,694.29 162.37,668.72 194.52,650.97 226.68,637.74 258.83,624.20 290.99,612.17 323.14,599.84 355.30,588.71 387.45,579.50 419.61,572.28 451.76,565.09 483.92,555.41 516.07,547.20 548.23,541.18 580.38,533.06 612.53,523.43 644.69,513.66 676.84,501.78 709.00,473.50" fill="none" stroke="#5b9bd5" stroke-width="2" stroke-linejoin="round" stroke-linecap="round" clip-path="url(#eclip)"/>
<polyline points="65.90,718.35 98.06,712.03 130.21,698.20 162.37,680.45 194.52,667.52 226.68,657.89 258.83,648.11 290.99,638.22 323.14,626.91 355.30,617.67 387.45,609.88 419.61,602.36 451.76,594.33 483.92,586.09 516.07,578.63 548.23,571.56 580.38,561.63 612.53,550.66 644.69,537.69 676.84,521.63 709.00,473.50" fill="none" stroke="#70ad47" stroke-width="2" stroke-linejoin="round" stroke-linecap="round" clip-path="url(#eclip)"/>
<polyline points="65.90,774.30 98.06,774.30 130.21,773.85 162.37,772.92 194.52,770.78 226.68,767.08 258.83,762.57 290.99,754.75 323.14,743.80 355.30,732.79 387.45,722.08 419.61,706.47 451.76,685.02 483.92,662.49 516.07,641.65 548.23,621.19 580.38,597.13 612.53,572.76 644.69,547.92 676.84,523.88 709.00,473.50" fill="none" stroke="#ffc000" stroke-width="2" stroke-linejoin="round" stroke-linecap="round" clip-path="url(#eclip)"/>
<polyline points="65.90,774.30 98.06,774.30 130.21,773.70 162.37,772.80 194.52,770.69 226.68,767.08 258.83,762.57 290.99,756.55 323.14,747.23 355.30,737.12 387.45,728.46 419.61,715.16 451.76,692.84 483.92,672.33 516.07,653.38 548.23,633.83 580.38,613.37 612.53,590.51 644.69,568.85 676.84,546.29 709.00,473.50" fill="none" stroke="#ed7d31" stroke-width="2" stroke-linejoin="round" stroke-linecap="round" clip-path="url(#eclip)"/>
<rect x="77.4" y="478.5" width="200.5" height="108.7" fill="#ffffff" stroke="#d9d9d9" stroke-width="0.9"/>
<line x1="98.3" y1="491.50" x2="116.1" y2="491.50" stroke="#5b9bd5" stroke-width="1.9" stroke-linecap="round"/>
<text x="117.70" y="497.60" font-size="15.2" fill="#595959" textLength="29.96" lengthAdjust="spacingAndGlyphs">PDB</text>
<line x1="98.3" y1="519.00" x2="116.1" y2="519.00" stroke="#70ad47" stroke-width="1.9" stroke-linecap="round"/>
<text x="117.60" y="525.10" font-size="15.2" fill="#595959" textLength="40.26" lengthAdjust="spacingAndGlyphs">100%</text>
<text x="162.34" y="525.10" font-size="15.2" fill="#595959" textLength="26.40" lengthAdjust="spacingAndGlyphs">seq</text>
<text x="192.74" y="525.10" font-size="15.2" fill="#595959" textLength="14.68" lengthAdjust="spacingAndGlyphs">id</text>
<text x="211.08" y="525.10" font-size="15.2" fill="#595959" textLength="50.00" lengthAdjust="spacingAndGlyphs">cluster</text>
<line x1="98.3" y1="546.50" x2="116.1" y2="546.50" stroke="#ffc000" stroke-width="1.9" stroke-linecap="round"/>
<text x="117.72" y="552.60" font-size="15.2" fill="#595959" textLength="41.66" lengthAdjust="spacingAndGlyphs">KEGG</text>
<line x1="98.3" y1="574.00" x2="116.1" y2="574.00" stroke="#ed7d31" stroke-width="1.9" stroke-linecap="round"/>
<text x="117.77" y="579.90" font-size="15.2" fill="#595959" textLength="19.16" lengthAdjust="spacingAndGlyphs">EC</text>
<text x="184.28" y="451.60" font-size="19.5" fill="#595959" font-weight="bold" textLength="25.11" lengthAdjust="spacingAndGlyphs">for</text>
<text x="214.85" y="451.60" font-size="19.5" fill="#595959" font-weight="bold" textLength="30.24" lengthAdjust="spacingAndGlyphs">the</text>
<text x="251.04" y="451.60" font-size="19.5" fill="#595959" font-weight="bold" textLength="39.29" lengthAdjust="spacingAndGlyphs">best</text>
<text x="294.82" y="451.60" font-size="19.5" fill="#595959" font-weight="bold" textLength="95.18" lengthAdjust="spacingAndGlyphs">PDB-KEGG</text>
<text x="394.49" y="451.60" font-size="19.5" fill="#595959" font-weight="bold" textLength="58.65" lengthAdjust="spacingAndGlyphs">match</text>
<text x="457.46" y="451.60" font-size="19.5" fill="#595959" font-weight="bold" textLength="26.54" lengthAdjust="spacingAndGlyphs">for</text>
<text x="488.04" y="451.60" font-size="19.5" fill="#595959" font-weight="bold" textLength="50.83" lengthAdjust="spacingAndGlyphs">each:</text>
<text transform="translate(13.086 446.800) scale(0.7576 0.7849)" font-size="20.0" font-weight="bold" fill="#000">E</text>
<text x="351.80" y="825.50" font-size="16.6" fill="#595959" textLength="70.14" lengthAdjust="spacingAndGlyphs">similarity</text>
<text x="22.40" y="742.86" font-size="17.1" fill="#595959" textLength="65.97" lengthAdjust="spacingAndGlyphs" transform="rotate(-90 22.40 742.86)">relative</text>
<text x="22.40" y="673.21" font-size="17.1" fill="#595959" textLength="66.24" lengthAdjust="spacingAndGlyphs" transform="rotate(-90 22.40 673.21)">frequency</text>
<text x="22.40" y="603.85" font-size="17.1" fill="#595959" textLength="99.03" lengthAdjust="spacingAndGlyphs" transform="rotate(-90 22.40 603.85)">cummulative</text>
</svg>
</body></html>
